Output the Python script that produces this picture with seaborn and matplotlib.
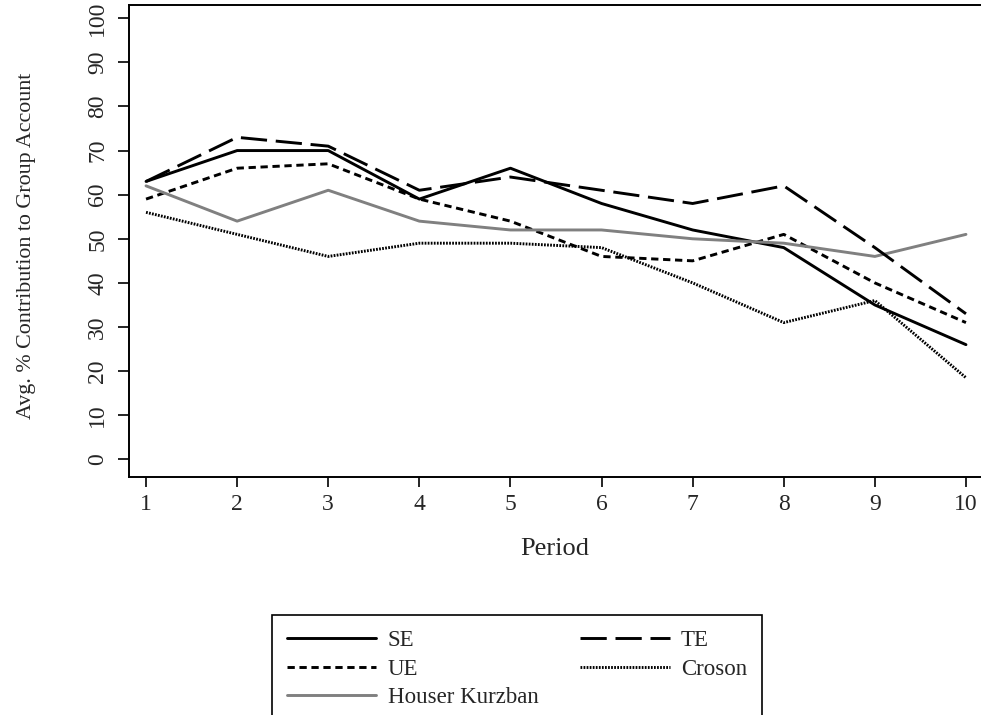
import matplotlib
matplotlib.use("Agg")
import matplotlib.pyplot as plt
import seaborn as sns
import pandas as pd

periods = [1, 2, 3, 4, 5, 6, 7, 8, 9, 10]
se = [63, 70, 70, 59, 66, 58, 52, 48, 35, 26]
te = [63, 73, 71, 61, 64, 61, 58, 62, 48, 33]
ue = [59, 66, 67, 59, 54, 46, 45, 51, 40, 31]
croson = [56, 51, 46, 49, 49, 48, 40, 31, 36, 18.5]
houser_kurzban = [62, 54, 61, 54, 52, 52, 50, 49, 46, 51]

sns.set_style("ticks")
plt.rcParams['font.family'] = ['Liberation Serif', 'DejaVu Serif']

fig = plt.figure(figsize=(9.81, 7.15), dpi=100)
ax = fig.add_axes([0.1315, 0.3329, 0.8685, 0.6601])

# order in legend: SE, TE / UE, Croson / Houser Kurzban
series = [
    ("SE", se, "black", "-", 2.1),
    ("UE", ue, "black", (0, (2.5, 1.6)), 2.1),
    ("Houser Kurzban", houser_kurzban, "#808080", "-", 2.1),
    ("TE", te, "black", (0, (9, 3)), 2.1),
    ("Croson", croson, "black", (0, (0.6, 0.45)), 2.1),
]
for name, vals, col, ls, lw in series:
    sns.lineplot(x=periods, y=vals, ax=ax, color=col, linestyle=ls,
                 linewidth=lw, label=name, legend=False)

ax.set_xlim(0.813, 10.165)
ax.set_ylim(-4.0, 103.0)
ax.set_xticks(periods)
ax.set_yticks(range(0, 101, 10))
ax.tick_params(axis='x', direction='out', length=7.5, width=1.2,
               labelsize=17, color='black', pad=5)
ax.tick_params(axis='y', direction='out', length=8, width=1.2,
               labelsize=17, color='black', pad=7, labelrotation=90)
for lab in ax.get_yticklabels():
    lab.set_va('center')
ax.spines['right'].set_visible(False)
for s in ['left', 'bottom', 'top']:
    ax.spines[s].set_linewidth(1.4)
    ax.spines[s].set_color('black')

ax.set_xlabel("Period", fontsize=19, va='top')
ax.xaxis.set_label_coords(0.5, -0.13)
ax.set_ylabel("Avg. % Contribution to Group Account", fontsize=15.8)
ax.yaxis.set_label_coords(-0.109, 0.49)

handles, labels = ax.get_legend_handles_labels()
leg = fig.legend(handles, labels, loc='upper left',
                 bbox_to_anchor=(272 / 981, 1 - 615 / 715, 490 / 981, 0),
                 mode='expand', ncol=2, frameon=True, fancybox=False,
                 edgecolor='black', framealpha=1, fontsize=16.5,
                 handlelength=3.9, handletextpad=0.5, labelspacing=0.33,
                 borderpad=0.65, borderaxespad=0)
leg.get_frame().set_linewidth(1.2)

fig.savefig("out.png", dpi=100)
